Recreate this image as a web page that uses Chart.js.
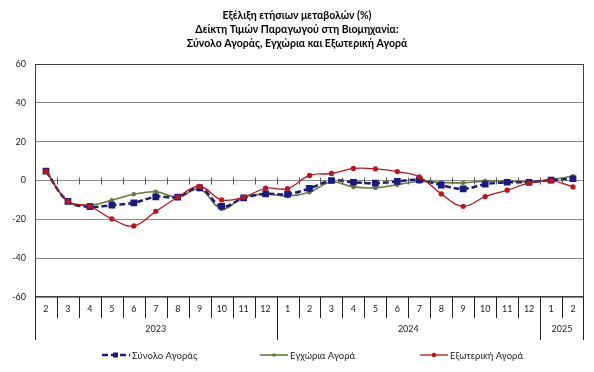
<!DOCTYPE html>
<html>
<head>
<meta charset="utf-8">
<script src="https://cdn.jsdelivr.net/npm/chart.js@4.4.1/dist/chart.umd.min.js"></script>
<style>
  html, body { margin: 0; padding: 0; background: #fff; }
</style>
</head>
<body>
<canvas id="ppiChart" width="594" height="372"></canvas>
<script>
const titleLines = [
  'Εξέλιξη ετήσιων μεταβολών (%)',
  'Δείκτη Τιμών Παραγωγού στη Βιομηχανία:',
  'Σύνολο Αγοράς, Εγχώρια και Εξωτερική Αγορά'
];

const months = ['2', '3', '4', '5', '6', '7', '8', '9', '10', '11', '12',
  '1', '2', '3', '4', '5', '6', '7', '8', '9', '10', '11', '12', '1', '2'];
const yearLabels = ['2023', '2024', '2025'];
const yearCounts = [11, 12, 2];

const totalMarket = [4.8, -10.7, -13.5, -12.7, -11.5, -8.4, -8.5, -3.8, -13.3, -9.0, -6.9,
  -7.0, -4.1, 0.0, -0.9, -1.4, -0.5, 0.3, -2.4, -4.3, -1.9, -0.9, -0.9, 0.2, 0.9];
const domesticMarket = [4.8, -10.7, -12.7, -10.2, -7.1, -5.8, -8.5, -4.5, -14.6, -8.6, -7.0,
  -8.0, -6.0, -0.8, -3.3, -3.8, -2.2, -0.5, -1.0, -1.2, -0.3, -0.3, -0.7, 0.4, 2.2];
const foreignMarket = [4.8, -10.7, -13.3, -19.8, -23.4, -15.9, -8.6, -3.1, -10.0, -8.6, -4.0,
  -4.2, 2.6, 3.6, 6.2, 6.0, 4.6, 1.9, -6.9, -13.3, -8.3, -5.0, -1.4, -0.1, -3.3];

const FONT = 'Lato, "Open Sans", sans-serif';
const TEXT = '#222';

// everything Excel draws around the plot: titles, category axis, legend, frame
const excelDecor = {
  id: 'excelDecor',
  afterDatasetsDraw(chart) {
    const ctx = chart.ctx;
    const area = chart.chartArea;
    const x = chart.scales.x;
    const y = chart.scales.y;
    const half = (x.getPixelForValue(1) - x.getPixelForValue(0)) / 2;
    const zero = y.getPixelForValue(0);

    ctx.save();

    // frame
    ctx.strokeStyle = '#404040';
    ctx.lineWidth = 1;
    ctx.strokeRect(area.left + 0.5, area.top + 0.5, area.right - area.left - 1, area.bottom - area.top - 1);

    // crossing ticks on the zero line
    ctx.strokeStyle = '#555';
    ctx.beginPath();
    for (let i = 1; i < months.length; i++) {
      const px = Math.round(x.getPixelForValue(i) - half) + 0.5;
      ctx.moveTo(px, zero - 3);
      ctx.lineTo(px, zero + 4);
    }
    ctx.stroke();

    // month labels and separators
    ctx.fillStyle = TEXT;
    ctx.font = '9px ' + FONT;
    ctx.textAlign = 'center';
    ctx.textBaseline = 'middle';
    ctx.strokeStyle = '#222';
    ctx.beginPath();
    months.forEach((m, i) => {
      const cx = x.getPixelForValue(i);
      ctx.fillText(m, cx, area.bottom + 12);
      const px = Math.round(cx - half) + 0.5;
      ctx.moveTo(px, area.bottom);
      ctx.lineTo(px, area.bottom + 21);
    });
    const lastEdge = Math.round(x.getPixelForValue(months.length - 1) + half) - 0.5;
    ctx.moveTo(lastEdge, area.bottom);
    ctx.lineTo(lastEdge, area.bottom + 43);

    // year labels and long separators
    let start = 0;
    yearLabels.forEach((label, k) => {
      const end = start + yearCounts[k] - 1;
      const left = x.getPixelForValue(start) - half;
      const right = x.getPixelForValue(end) + half;
      ctx.fillText(label, (left + right) / 2, area.bottom + 32);
      const px = Math.round(left) + 0.5;
      ctx.moveTo(px, area.bottom);
      ctx.lineTo(px, area.bottom + 43);
      start = end + 1;
    });
    ctx.stroke();

    // title
    ctx.font = 'bold 10.5px ' + FONT;
    ctx.fillStyle = '#000';
    titleLines.forEach((t, i) => ctx.fillText(t, chart.width / 2, 16 + i * 14));

    // legend
    ctx.font = '9.5px ' + FONT;
    ctx.textAlign = 'left';
    const legendX = [102, 260, 420];
    const ly = 355;
    chart.data.datasets.forEach((ds, i) => {
      const lx = legendX[i];
      ctx.strokeStyle = ds.borderColor;
      ctx.lineWidth = ds.borderWidth;
      ctx.setLineDash(ds.borderDash || []);
      ctx.beginPath();
      ctx.moveTo(lx, ly);
      ctx.lineTo(lx + 28, ly);
      ctx.stroke();
      ctx.setLineDash([]);
      ctx.fillStyle = ds.pointBackgroundColor;
      if (ds.pointStyle === 'rect') {
        ctx.fillRect(lx + 11, ly - 2.5, 5, 5);
      } else {
        ctx.beginPath();
        ctx.arc(lx + 14, ly, ds.pointRadius + 0.3, 0, Math.PI * 2);
        ctx.fill();
      }
      ctx.fillStyle = TEXT;
      ctx.fillText(ds.label, lx + 30, ly + 0.5);
    });

    ctx.restore();
  }
};

new Chart(document.getElementById('ppiChart'), {
  type: 'line',
  data: {
    labels: months,
    datasets: [
      {
        label: 'Σύνολο Αγοράς',
        data: totalMarket,
        borderColor: '#1a1a80',
        backgroundColor: '#1a1a80',
        pointBackgroundColor: '#1a1a80',
        pointBorderColor: '#1a1a80',
        borderWidth: 2.5,
        borderDash: [6, 3],
        pointStyle: 'rect',
        pointRadius: 3,
        tension: 0.4,
        order: 1
      },
      {
        label: 'Εγχώρια Αγορά',
        data: domesticMarket,
        borderColor: '#667a3a',
        backgroundColor: '#667a3a',
        pointBackgroundColor: '#667a3a',
        pointBorderColor: '#667a3a',
        borderWidth: 1.6,
        pointRadius: 1.5,
        tension: 0.4,
        order: 2
      },
      {
        label: 'Εξωτερική Αγορά',
        data: foreignMarket,
        borderColor: '#c0141c',
        backgroundColor: '#c0141c',
        pointBackgroundColor: '#c0141c',
        pointBorderColor: '#c0141c',
        borderWidth: 1.3,
        pointRadius: 2,
        tension: 0.4,
        order: 0
      }
    ]
  },
  options: {
    responsive: false,
    devicePixelRatio: 1,
    animation: false,
    layout: { padding: { top: 64, right: 10, bottom: 75, left: 0 } },
    plugins: {
      legend: { display: false },
      title: { display: false },
      tooltip: { enabled: false }
    },
    scales: {
      x: {
        display: false,
        offset: true
      },
      y: {
        min: -60,
        max: 60,
        afterFit: scale => { scale.width = 35; },
        ticks: {
          stepSize: 20,
          padding: 9,
          color: TEXT,
          font: { family: FONT, size: 9 }
        },
        grid: { color: '#8a8a8a', lineWidth: 1, drawTicks: false },
        border: { display: true, color: '#000', width: 1 }
      }
    }
  },
  plugins: [excelDecor]
});
</script>
</body>
</html>
